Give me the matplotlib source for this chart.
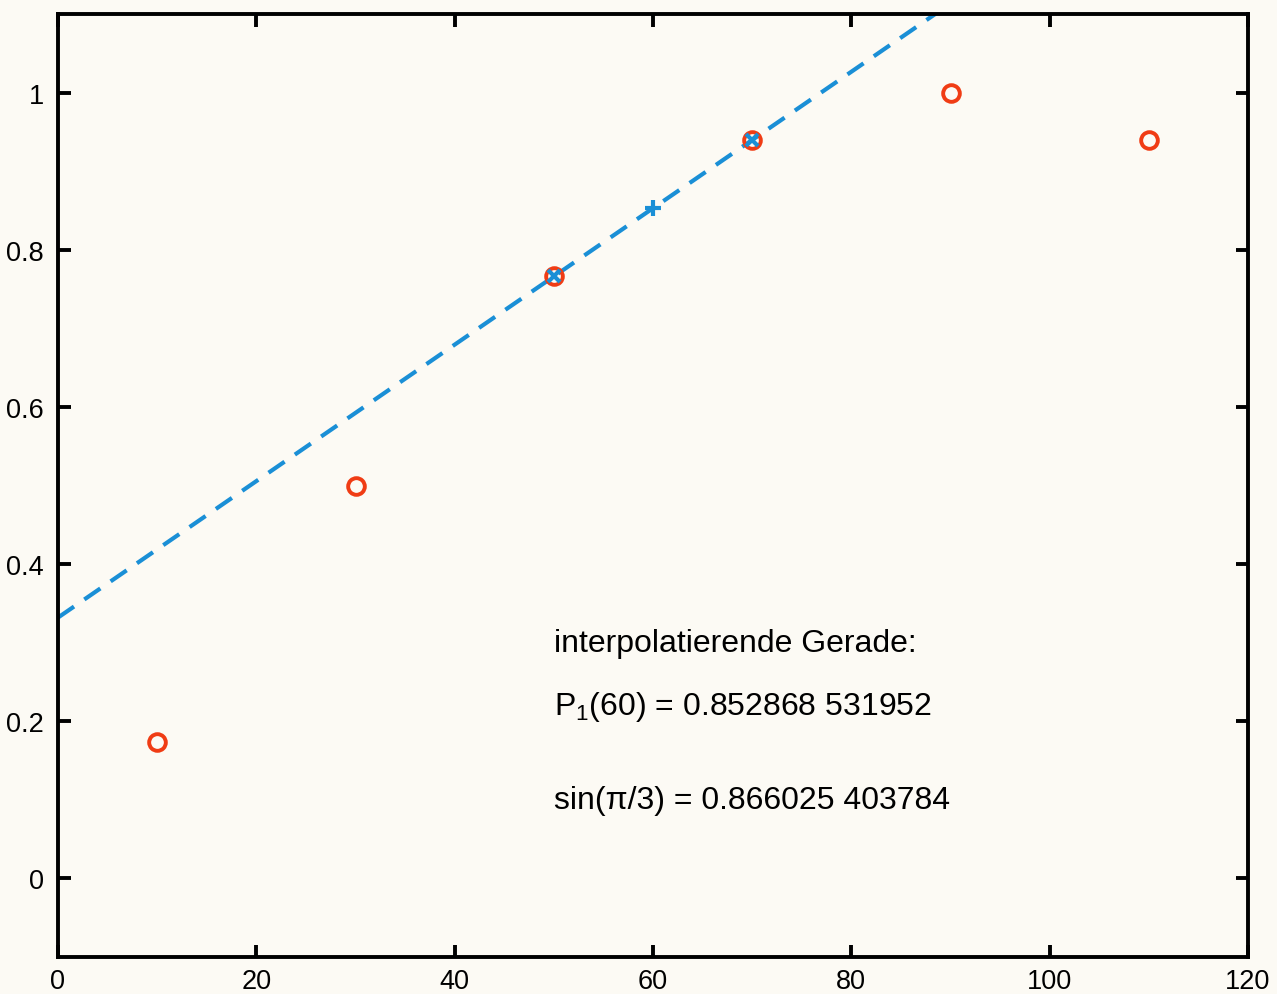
import matplotlib
matplotlib.use("Agg")
import matplotlib.pyplot as plt

plt.rcParams['font.family'] = ['Liberation Sans', 'DejaVu Sans']
plt.rcParams['mathtext.fontset'] = 'custom'
plt.rcParams['mathtext.rm'] = 'Liberation Sans'
plt.rcParams['mathtext.it'] = 'Liberation Sans'
plt.rcParams['lines.scale_dashes'] = False

# Stuetzstellen (Grad) und Sinuswerte
x_pts = [10, 30, 50, 70, 90, 110]
y_pts = [0.173648, 0.5, 0.766044, 0.939693, 1.0, 0.939693]

# interpolierende Gerade durch (50, sin 50) und (70, sin 70)
line_x = [0, 120]
line_y = [0.331929, 1.373823]
node_x = [50, 70]
node_y = [0.766044, 0.939693]
eval_x = [60]
eval_y = [0.852868531952]

xticks = [0, 20, 40, 60, 80, 100, 120]
yticks = [0, 0.2, 0.4, 0.6, 0.8, 1]
ytick_labels = ["0", "0.2", "0.4", "0.6", "0.8", "1"]

bg = '#fcfaf4'
blue = '#1a8fd6'
red = '#f03c14'

fig = plt.figure(figsize=(12.77, 9.95), dpi=100, facecolor=bg)
ax = fig.add_axes([58/1277, 1 - 958/995, 1190/1277, 943/995])
ax.set_facecolor(bg)

ax.plot(line_x, line_y, color=blue, lw=3, linestyle=(0, (14, 9)))
ax.plot(x_pts, y_pts, 'o', mfc='none', mec=red, ms=12, mew=2.8)
ax.plot(node_x, node_y, 'x', color=blue, ms=9, mew=3)
ax.plot(eval_x, eval_y, '+', color=blue, ms=12, mew=3)

ax.set_xlim(0, 120)
ax.set_ylim(-0.1, 1.1)
ax.set_xticks(xticks)
ax.set_xticklabels([str(t) for t in xticks])
ax.set_yticks(yticks)
ax.set_yticklabels(ytick_labels)

for s in ax.spines.values():
    s.set_linewidth(2.8)
ax.tick_params(direction='in', length=9, width=2.8, top=True, right=True,
               labelsize=19.5, pad=8)
ax.tick_params(axis='y', pad=10)

txt = dict(fontsize=23, va='center', ha='left')
ax.text(50, 0.30, "interpolatierende Gerade:", **txt)
ax.text(50, 0.22, r"P$_{1}$(60) = 0.852868 531952", **txt)
ax.text(50, 0.10, "sin(π/3) = 0.866025 403784", **txt)

fig.savefig("out.png", dpi=100, facecolor=bg)
